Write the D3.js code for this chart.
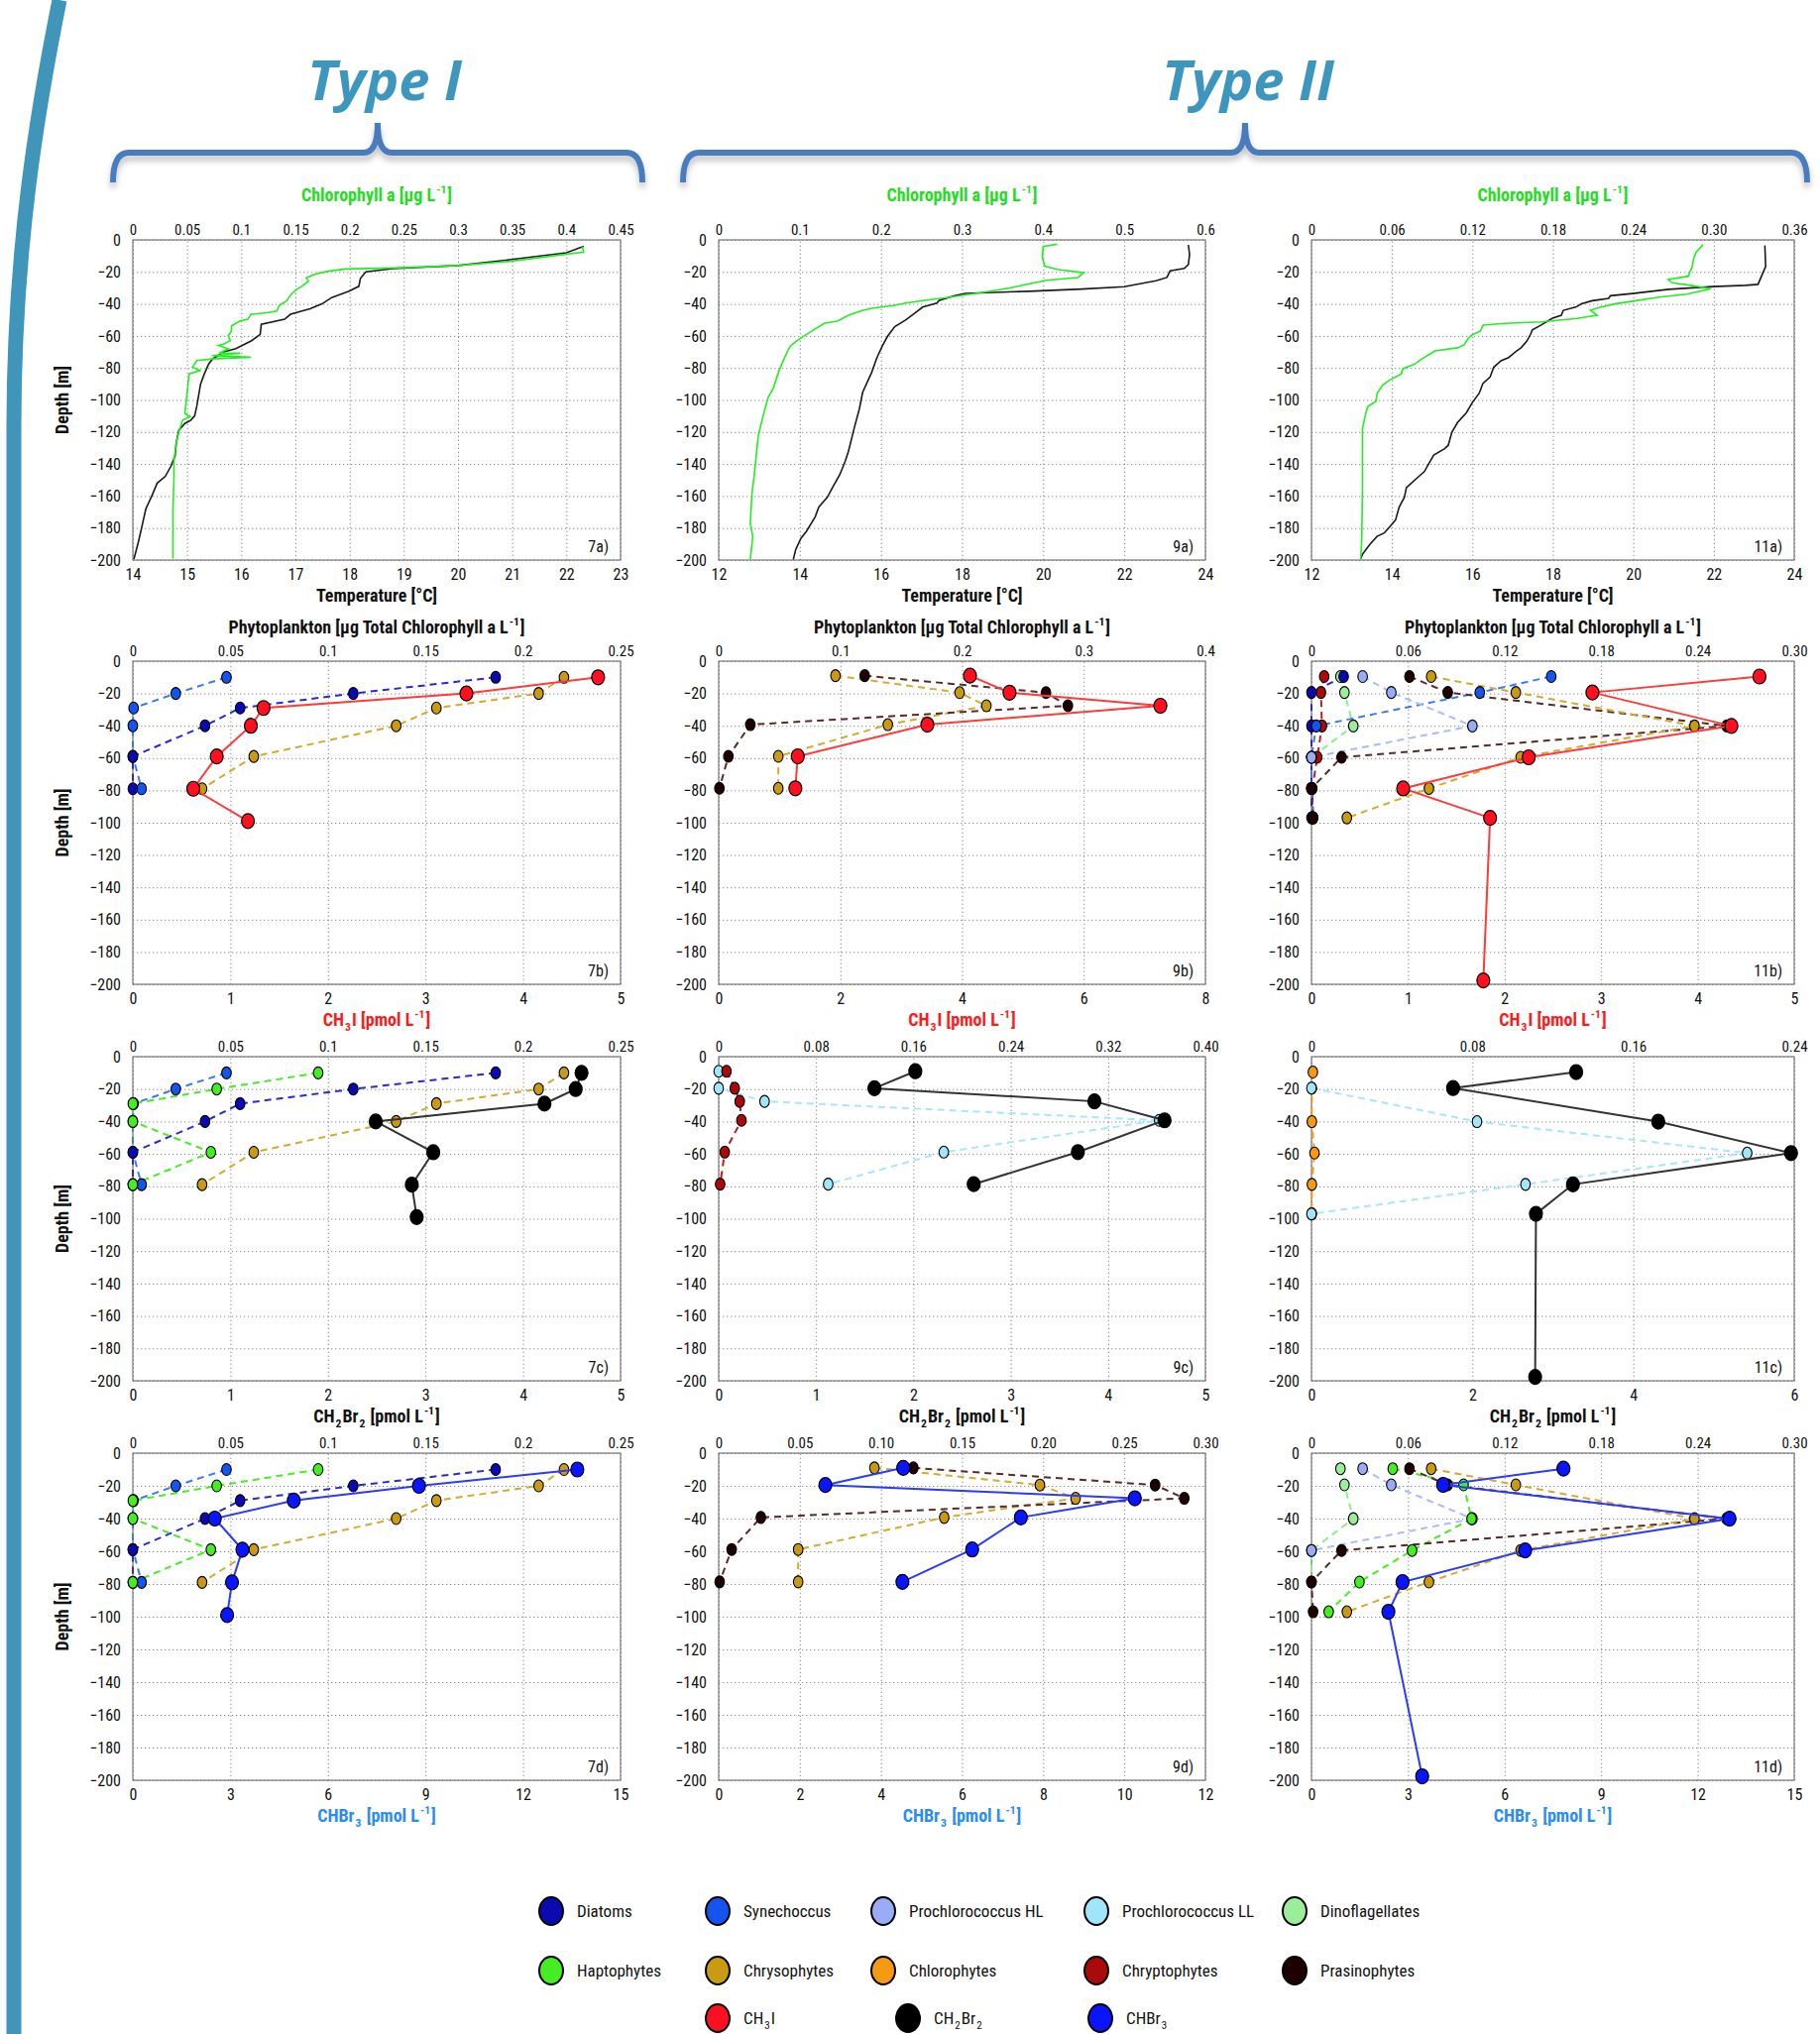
<!DOCTYPE html>
<html>
<head>
<meta charset="utf-8">
<script src="https://cdn.jsdelivr.net/npm/d3@7"></script>
<style>
  body { margin: 0; background: #fff; }
  svg { display: block; }
</style>
</head>
<body>
<svg id="fig" width="1836" height="2052"></svg>
<script>
// ---------- data ----------
var depthTicks = [0, -20, -40, -60, -80, -100, -120, -140, -160, -180, -200];

var tempTicks7 = ["14","15","16","17","18","19","20","21","22","23"];
var tempTicks9 = ["12","14","16","18","20","22","24"];
var tempTicks11 = ["12","14","16","18","20","22","24"];
var chlTicks7 = ["0","0.05","0.1","0.15","0.2","0.25","0.3","0.35","0.4","0.45"];
var chlTicks9 = ["0","0.1","0.2","0.3","0.4","0.5","0.6"];
var chlTicks11 = ["0","0.06","0.12","0.18","0.24","0.30","0.36"];
var phytoTicks7 = ["0","0.05","0.1","0.15","0.2","0.25"];
var phytoTicks7d = ["0","0.05","0.1","0.15","0.2","0.25"];
var phytoTicks9b = ["0","0.1","0.2","0.3","0.4"];
var phytoTicks9c = ["0","0.08","0.16","0.24","0.32","0.40"];
var phytoTicks9d = ["0","0.05","0.10","0.15","0.20","0.25","0.30"];
var phytoTicks11b = ["0","0.06","0.12","0.18","0.24","0.30"];
var phytoTicks11c = ["0","0.08","0.16","0.24"];
var phytoTicks11d = ["0","0.06","0.12","0.18","0.24","0.30"];
var ch3iTicks7 = ["0","1","2","3","4","5"];
var ch3iTicks9 = ["0","2","4","6","8"];
var ch3iTicks11 = ["0","1","2","3","4","5"];
var ch2br2Ticks7 = ["0","1","2","3","4","5"];
var ch2br2Ticks9 = ["0","1","2","3","4","5"];
var ch2br2Ticks11 = ["0","2","4","6"];
var chbr3Ticks7 = ["0","3","6","9","12","15"];
var chbr3Ticks9 = ["0","2","4","6","8","10","12"];
var chbr3Ticks11 = ["0","3","6","9","12","15"];

// CTD profiles [value, depth]
var temp7 = [[22.32,-4],[22.0,-8],[20.95,-12.4],[20.0,-16],[18.8,-18],[18.3,-20],[18.2,-24],[18.17,-29],[17.99,-32],[17.67,-36],[17.49,-40],[17.27,-43],[16.91,-46.5],[16.8,-49.6],[16.37,-52.7],[16.35,-59],[16.19,-63],[15.9,-68],[15.68,-70],[15.47,-74.4],[15.4,-77.5],[15.32,-83.7],[15.25,-90],[15.21,-98],[15.18,-104],[15.14,-110],[15.07,-112.6],[14.96,-114.7],[14.85,-118.8],[14.8,-127],[14.78,-135],[14.7,-141.5],[14.6,-147.7],[14.45,-151.9],[14.35,-160],[14.24,-168],[14.17,-178.7],[14.1,-189],[14.02,-199.4]];
var chl7 = [[0.4146,-4.1],[0.416,-7.6],[0.348,-13.4],[0.30,-16],[0.239,-17.6],[0.196,-18.2],[0.18,-19.6],[0.167,-21.7],[0.16,-23.8],[0.162,-25.8],[0.156,-29],[0.151,-31],[0.146,-34],[0.142,-38],[0.135,-41],[0.133,-44.4],[0.124,-45.5],[0.109,-46.5],[0.106,-49.6],[0.099,-50.6],[0.091,-53.7],[0.091,-57],[0.088,-60],[0.090,-63],[0.084,-65],[0.079,-66],[0.088,-68],[0.080,-70.7],[0.099,-70.8],[0.073,-72.3],[0.109,-73.3],[0.073,-74.4],[0.059,-75.4],[0.055,-79.5],[0.062,-81.6],[0.052,-83.7],[0.050,-96],[0.048,-108.5],[0.053,-110.5],[0.046,-112.6],[0.043,-118.8],[0.040,-127],[0.038,-137],[0.038,-148],[0.037,-168],[0.037,-199]];
var temp9 = [[23.58,-3.1],[23.61,-9.2],[23.58,-15.4],[23.48,-17.8],[23.13,-19.4],[23.05,-23.5],[22.78,-25.6],[22.0,-29.3],[20.95,-30.7],[19.65,-32.1],[18.08,-33.4],[17.82,-34.8],[17.43,-37.9],[17.38,-39.5],[17.03,-42],[16.82,-46],[16.6,-50.2],[16.34,-54.2],[16.16,-60.4],[16.03,-66.5],[15.9,-73.7],[15.77,-82.9],[15.55,-95.2],[15.47,-105.4],[15.34,-117.7],[15.2,-132],[15.12,-138.2],[14.99,-146.4],[14.81,-154.6],[14.68,-160.7],[14.47,-166.8],[14.38,-173],[14.16,-182.2],[14.03,-186.3],[13.9,-193.4],[13.84,-199.6]];
var chl9 = [[0.417,-2.7],[0.400,-4.1],[0.399,-11.3],[0.402,-16.4],[0.417,-18.4],[0.450,-20.5],[0.443,-23.5],[0.404,-25.2],[0.382,-27.6],[0.352,-30.7],[0.317,-33.4],[0.286,-35.8],[0.252,-37.9],[0.230,-39.5],[0.217,-40.9],[0.191,-42.6],[0.178,-44],[0.160,-47.1],[0.147,-50.6],[0.130,-52.2],[0.117,-56.3],[0.104,-60.4],[0.095,-63.5],[0.088,-66.5],[0.082,-72.7],[0.075,-80.9],[0.067,-93.1],[0.061,-98.3],[0.055,-109.5],[0.049,-121.8],[0.046,-136.1],[0.044,-146.4],[0.041,-158.6],[0.039,-177],[0.042,-185.3],[0.039,-199.6]];
var temp11 = [[23.27,-3.5],[23.29,-16.6],[23.22,-20.7],[23.1,-27.8],[22.79,-28.4],[21.97,-29.2],[20.88,-30.9],[19.98,-33.5],[19.43,-34.9],[19.39,-36.5],[18.98,-38],[18.71,-40],[18.57,-42],[18.26,-44],[18.21,-47.1],[17.98,-49.1],[17.71,-53.2],[17.49,-56.2],[17.44,-59.3],[17.35,-63.4],[17.21,-67.4],[17.08,-69.8],[16.9,-73.5],[16.71,-75.5],[16.53,-79.6],[16.44,-85.7],[16.26,-89.7],[16.17,-95.8],[15.99,-101.9],[15.85,-108],[15.63,-114.1],[15.49,-120.2],[15.4,-128.3],[15.31,-130.4],[15.04,-134.4],[14.9,-140.5],[14.81,-144.6],[14.63,-148.6],[14.45,-152.7],[14.36,-154.7],[14.31,-160.8],[14.18,-166.9],[14.09,-175],[13.95,-179.1],[13.81,-183.1],[13.63,-185.2],[13.45,-190.3],[13.27,-196.3],[13.22,-199.4]];
var chl11 = [[0.292,-3.0],[0.287,-7.5],[0.285,-11.6],[0.284,-16.6],[0.281,-22.7],[0.266,-24.8],[0.269,-26.8],[0.283,-28.4],[0.298,-30.5],[0.280,-33.9],[0.258,-35.9],[0.242,-38],[0.226,-40],[0.216,-42],[0.208,-44],[0.213,-47.1],[0.198,-49.1],[0.171,-51.2],[0.144,-52.2],[0.128,-53.2],[0.126,-56.9],[0.120,-59.3],[0.117,-61.3],[0.114,-65.4],[0.109,-67.4],[0.092,-69.4],[0.088,-71.5],[0.082,-74.5],[0.077,-77.6],[0.068,-80.6],[0.067,-83.7],[0.058,-87.7],[0.053,-90.8],[0.049,-95.8],[0.048,-100.9],[0.042,-104],[0.040,-110],[0.038,-118.2],[0.038,-136.4],[0.038,-156.8],[0.0375,-187.2],[0.0367,-199.4]];

// station 7 discrete samples
var depth7 = [-10, -20, -29, -40, -59, -79, -99];
var diatoms7 = [0.186, 0.113, 0.055, 0.037, 0, 0];
var synechococcus7 = [0.048, 0.022, 0.0004, 0, 0, 0.0045];
var haptophytes7 = [0.095, 0.043, 0, 0, 0.040, 0];
var chrysophytes7 = [0.221, 0.208, 0.1556, 0.135, 0.062, 0.0355];
var ch3i7 = [4.77, 3.42, 1.34, 1.21, 0.86, 0.62, 1.18];
var ch2br2_7 = [4.60, 4.54, 4.22, 2.49, 3.08, 2.86, 2.91];
var chbr3_7 = [13.67, 8.8, 4.95, 2.52, 3.37, 3.05, 2.9];

// station 9
var depth9 = [-9, -19.5, -27.6, -39.3, -58.9, -78.7];
var chrysophytes9 = [0.096, 0.198, 0.220, 0.139, 0.049, 0.049];
var prasinophytes9 = [0.120, 0.269, 0.287, 0.026, 0.008, 0.0006];
var prochloLL9 = [0, 0, 0.0377, 0.362, 0.185, 0.090];
var cryptophytes9 = [0.0064, 0.0132, 0.0173, 0.0187, 0.005, 0.0012];
var ch3i9 = [4.13, 4.78, 7.26, 3.43, 1.30, 1.26];
var ch2br2_9 = [2.02, 1.60, 3.86, 4.58, 3.69, 2.62];
var chbr3_9 = [4.55, 2.63, 10.26, 7.45, 6.25, 4.53];

// station 11
var depth11 = [-9.5, -19.4, -40.1, -59.5, -78.8, -97, -197.6];
var cryptophytes11 = [0.0079, 0.0059, 0.0065, 0.0036, 0.0005, 0.001];
var dinoflagellates11 = [0.018, 0.0205, 0.026, 0, 0, null];
var diatoms11 = [0.020, 0, 0, 0, 0, 0];
var synechococcus11 = [0.149, 0.1046, 0.003, 0, 0, 0.001];
var prochloHL11 = [0.0318, 0.0496, 0.100, 0, null, null];
var prasinophytes11 = [0.0609, 0.0847, 0.258, 0.0187, 0, 0.001];
var chrysophytes11 = [0.0744, 0.127, 0.238, 0.130, 0.073, 0.022];
var haptophytes11 = [0.0505, 0.0945, 0.0995, 0.0625, 0.0298, 0.0107];
var prochloLL11 = [null, 0, 0.0823, 0.2166, 0.1064, 0];
var chlorophytes11 = [0.0007, 0.0002, 0.0002, 0.0015, 0.0002, 0.0002];
var ch3i11 = [4.64, 2.91, 4.35, 2.25, 0.95, 1.85, 1.78];
var ch2br2_11 = [3.29, 1.76, 4.31, 5.96, 3.25, 2.79, 2.78];
var chbr3_11 = [7.83, 4.09, 12.99, 6.64, 2.83, 2.39, 3.44];

var legendRow1 = ["Diatoms", "Synechoccus", "Prochlorococcus HL", "Prochlorococcus LL", "Dinoflagellates"];
var legendRow2 = ["Haptophytes", "Chrysophytes", "Chlorophytes", "Chryptophytes", "Prasinophytes"];
var legendRow3 = ["CH3I", "CH2Br2", "CHBr3"];

// ---------- styles / layout ----------
var FONT = "'Liberation Sans Narrow', 'Roboto Condensed', 'Open Sans', sans-serif";
var colX = [[134, 626], [725, 1216], [1323, 1810]];
var rowY = [[242, 565], [667, 993], [1066, 1393], [1466, 1796]];

var groupStyle = {
  "Diatoms": {fill: "#0a0ab0", line: "#2a2ad4"},
  "Synechoccus": {fill: "#1455f0", line: "#3a7af5"},
  "Prochlorococcus HL": {fill: "#9aacf5", line: "#aabaff"},
  "Prochlorococcus LL": {fill: "#9fe6fa", line: "#a6e6ff"},
  "Dinoflagellates": {fill: "#99ee99", line: "#8cf08c"},
  "Haptophytes": {fill: "#44ee22", line: "#44ee22"},
  "Chrysophytes": {fill: "#c99a12", line: "#d4aa30"},
  "Chlorophytes": {fill: "#f59a12", line: "#f5a020"},
  "Chryptophytes": {fill: "#aa0a0a", line: "#b82020"},
  "Prasinophytes": {fill: "#1e0000", line: "#5a2a2a"},
  "CH3I": {fill: "#ff1020", line: "#ff3a3a"},
  "CH2Br2": {fill: "#000000", line: "#333333"},
  "CHBr3": {fill: "#0a14ff", line: "#2a3aff"}
};

var chlTitle = [["Chlorophyll a [μg L"], ["-1", "sup"], ["]"]];
var phytoTitle = [["Phytoplankton [μg Total Chlorophyll a L"], ["-1", "sup"], ["]"]];
var tempTitle = [["Temperature [°C]"]];
var ch3iTitle = [["CH"], ["3", "sub"], ["I [pmol L"], ["-1", "sup"], ["]"]];
var ch2br2Title = [["CH"], ["2", "sub"], ["Br"], ["2", "sub"], [" [pmol L"], ["-1", "sup"], ["]"]];
var chbr3Title = [["CHBr"], ["3", "sub"], [" [pmol L"], ["-1", "sup"], ["]"]];
var haloLegend = {
  "CH3I": [["CH"], ["3", "sub"], ["I"]],
  "CH2Br2": [["CH"], ["2", "sub"], ["Br"], ["2", "sub"]],
  "CHBr3": [["CHBr"], ["3", "sub"]]
};

var panels = [
  {row: 0, col: 0, label: "7a)", bottomTicks: tempTicks7, topTicks: chlTicks7, temp: temp7, chl: chl7},
  {row: 0, col: 1, label: "9a)", bottomTicks: tempTicks9, topTicks: chlTicks9, temp: temp9, chl: chl9},
  {row: 0, col: 2, label: "11a)", bottomTicks: tempTicks11, topTicks: chlTicks11, temp: temp11, chl: chl11},

  {row: 1, col: 0, label: "7b)", bottomTicks: ch3iTicks7, topTicks: phytoTicks7, depths: depth7,
    phyto: [["Synechoccus", synechococcus7], ["Diatoms", diatoms7], ["Chrysophytes", chrysophytes7]], halo: ["CH3I", ch3i7]},
  {row: 1, col: 1, label: "9b)", bottomTicks: ch3iTicks9, topTicks: phytoTicks9b, depths: depth9,
    phyto: [["Chrysophytes", chrysophytes9], ["Prasinophytes", prasinophytes9]], halo: ["CH3I", ch3i9]},
  {row: 1, col: 2, label: "11b)", bottomTicks: ch3iTicks11, topTicks: phytoTicks11b, depths: depth11,
    phyto: [["Chryptophytes", cryptophytes11], ["Dinoflagellates", dinoflagellates11], ["Diatoms", diatoms11],
            ["Synechoccus", synechococcus11], ["Prochlorococcus HL", prochloHL11], ["Prasinophytes", prasinophytes11],
            ["Chrysophytes", chrysophytes11]], halo: ["CH3I", ch3i11]},

  {row: 2, col: 0, label: "7c)", bottomTicks: ch2br2Ticks7, topTicks: phytoTicks7, depths: depth7,
    phyto: [["Synechoccus", synechococcus7], ["Diatoms", diatoms7], ["Haptophytes", haptophytes7], ["Chrysophytes", chrysophytes7]], halo: ["CH2Br2", ch2br2_7]},
  {row: 2, col: 1, label: "9c)", bottomTicks: ch2br2Ticks9, topTicks: phytoTicks9c, depths: depth9,
    phyto: [["Prochlorococcus LL", prochloLL9], ["Chryptophytes", cryptophytes9]], halo: ["CH2Br2", ch2br2_9]},
  {row: 2, col: 2, label: "11c)", bottomTicks: ch2br2Ticks11, topTicks: phytoTicks11c, depths: depth11,
    phyto: [["Chlorophytes", chlorophytes11], ["Prochlorococcus LL", prochloLL11]], halo: ["CH2Br2", ch2br2_11]},

  {row: 3, col: 0, label: "7d)", bottomTicks: chbr3Ticks7, topTicks: phytoTicks7d, depths: depth7,
    phyto: [["Synechoccus", synechococcus7], ["Diatoms", diatoms7], ["Haptophytes", haptophytes7], ["Chrysophytes", chrysophytes7]], halo: ["CHBr3", chbr3_7]},
  {row: 3, col: 1, label: "9d)", bottomTicks: chbr3Ticks9, topTicks: phytoTicks9d, depths: depth9,
    phyto: [["Chrysophytes", chrysophytes9], ["Prasinophytes", prasinophytes9]], halo: ["CHBr3", chbr3_9]},
  {row: 3, col: 2, label: "11d)", bottomTicks: chbr3Ticks11, topTicks: phytoTicks11d, depths: depth11,
    phyto: [["Dinoflagellates", dinoflagellates11], ["Prochlorococcus HL", prochloHL11], ["Haptophytes", haptophytes11],
            ["Prasinophytes", prasinophytes11], ["Chrysophytes", chrysophytes11]], halo: ["CHBr3", chbr3_11]}
];

var rowTop = [{parts: chlTitle, color: "#22dd22", off: 39}, {parts: phytoTitle, color: "#111", off: 28}, null, null];
var rowBottom = [{parts: tempTitle, color: "#111"}, {parts: ch3iTitle, color: "#ff1a1a"},
                 {parts: ch2br2Title, color: "#111"}, {parts: chbr3Title, color: "#2a8cf5"}];

// ---------- drawing ----------
var svg = d3.select("#fig");

var defs = svg.append("defs");
defs.append("filter").attr("id", "shadow").attr("x", "-5%").attr("y", "-60%").attr("width", "110%").attr("height", "260%")
  .append("feDropShadow").attr("dx", 0).attr("dy", 5).attr("stdDeviation", 3)
  .attr("flood-color", "#000").attr("flood-opacity", 0.25);

// rich text with sub/superscripts
function rich(sel, parts, size) {
  var shift = 0;
  parts.forEach(function(pt, i) {
    var target = pt[1] === "sub" ? size * 0.28 : pt[1] === "sup" ? -size * 0.42 : 0;
    var ts = sel.append("tspan").attr("dy", target - shift).text(pt[0]);
    if (pt[1]) ts.attr("font-size", size * 0.65);
    if (i > 0 && (pt[1] || parts[i - 1][1])) ts.attr("dx", 1);
    shift = target;
  });
}

// left decoration arc
svg.append("path")
  .attr("d", "M60,0 C38,110 14,250 14,430 L14,2052")
  .attr("fill", "none").attr("stroke", "#3f96ba").attr("stroke-width", 15);

// group titles and braces
svg.append("text").attr("x", 388).attr("y", 101).attr("text-anchor", "middle")
  .attr("font-family", "'Open Sans', sans-serif").attr("font-size", 56).attr("font-weight", 700)
  .attr("font-style", "italic").attr("fill", "#3d96bd").text("Type I");
svg.append("text").attr("x", 1259).attr("y", 101).attr("text-anchor", "middle")
  .attr("font-family", "'Open Sans', sans-serif").attr("font-size", 56).attr("font-weight", 700)
  .attr("font-style", "italic").attr("fill", "#3d96bd").text("Type II");

function brace(xl, xm, xr) {
  return "M" + xl + ",184 Q" + xl + ",154 " + (xl + 16) + ",154 L" + (xm - 14) + ",154 Q" + xm + ",154 " + xm + ",124 Q" + xm + ",154 " + (xm + 14) + ",154 L" + (xr - 16) + ",154 Q" + xr + ",154 " + xr + ",184";
}
svg.append("path").attr("d", brace(114, 381, 648)).attr("fill", "none").attr("stroke", "#4a7cbf")
  .attr("stroke-width", 6).attr("filter", "url(#shadow)");
svg.append("path").attr("d", brace(689, 1256, 1823)).attr("fill", "none").attr("stroke", "#4a7cbf")
  .attr("stroke-width", 6).attr("filter", "url(#shadow)");

function styleAxis(g, size) {
  g.attr("font-family", FONT).attr("font-size", size);
  g.select(".domain").remove();
  g.selectAll("text").attr("fill", "#111");
}

function drawPanel(p) {
  var xr = colX[p.col], yr = rowY[p.row];
  var bt = p.bottomTicks.map(Number), tt = p.topTicks.map(Number);
  var xb = d3.scaleLinear().domain([bt[0], bt[bt.length - 1]]).range(xr);
  var xt = d3.scaleLinear().domain([tt[0], tt[tt.length - 1]]).range(xr);
  var y = d3.scaleLinear().domain([0, -200]).range(yr);
  var w = xr[1] - xr[0], h = yr[1] - yr[0];
  var g = svg.append("g");

  // dotted grid
  var gx = g.append("g").attr("transform", "translate(0," + yr[1] + ")")
    .call(d3.axisBottom(xb).tickValues(bt).tickSize(-h).tickFormat(""));
  var gy = g.append("g").attr("transform", "translate(" + xr[0] + ",0)")
    .call(d3.axisLeft(y).tickValues(depthTicks).tickSize(-w).tickFormat(""));
  [gx, gy].forEach(function(a) {
    a.select(".domain").remove();
    a.selectAll("line").attr("stroke", "#8a8a8a").attr("stroke-width", 1).attr("stroke-dasharray", "1.3,2.7");
  });

  g.append("rect").attr("x", xr[0]).attr("y", yr[0]).attr("width", w).attr("height", h)
    .attr("fill", "none").attr("stroke", "#777").attr("stroke-width", 1.2);

  // tick labels
  var ab = g.append("g").attr("transform", "translate(0," + yr[1] + ")")
    .call(d3.axisBottom(xb).tickValues(bt).tickSize(0).tickPadding(9)
      .tickFormat(function(d, i) { return p.bottomTicks[i]; }));
  styleAxis(ab, 16);
  var at = g.append("g").attr("transform", "translate(0," + yr[0] + ")")
    .call(d3.axisTop(xt).tickValues(tt).tickSize(0).tickPadding(5)
      .tickFormat(function(d, i) { return p.topTicks[i]; }));
  styleAxis(at, 15);
  var al = g.append("g").attr("transform", "translate(" + xr[0] + ",0)")
    .call(d3.axisLeft(y).tickValues(depthTicks).tickSize(0).tickPadding(12)
      .tickFormat(function(d) { return d === 0 ? "0" : "\u2212" + Math.abs(d); }));
  styleAxis(al, 16);

  // titles
  var cx = (xr[0] + xr[1]) / 2;
  var top = rowTop[p.row];
  if (top) {
    rich(g.append("text").attr("x", cx).attr("y", yr[0] - top.off).attr("text-anchor", "middle")
      .attr("font-family", FONT).attr("font-size", 18).attr("font-weight", 700).attr("fill", top.color), top.parts, 18);
  }
  var bot = rowBottom[p.row];
  rich(g.append("text").attr("x", cx).attr("y", yr[1] + 42).attr("text-anchor", "middle")
    .attr("font-family", FONT).attr("font-size", 18).attr("font-weight", 700).attr("fill", bot.color), bot.parts, 18);
  if (p.col === 0) {
    g.append("text").attr("transform", "translate(69," + (yr[0] + h / 2) + ") rotate(-90)")
      .attr("text-anchor", "middle").attr("font-family", FONT).attr("font-size", 18).attr("font-weight", 700)
      .attr("fill", "#111").text("Depth [m]");
  }
  g.append("text").attr("x", xr[1] - 12).attr("y", yr[1] - 8).attr("text-anchor", "end")
    .attr("font-family", FONT).attr("font-size", 16).attr("fill", "#111").text(p.label);

  var marks = g.append("g");

  if (p.temp) {
    var lt = d3.line().x(function(d) { return xb(d[0]); }).y(function(d) { return y(d[1]); });
    var lc = d3.line().x(function(d) { return xt(d[0]); }).y(function(d) { return y(d[1]); });
    marks.append("path").datum(p.temp).attr("d", lt).attr("fill", "none").attr("stroke", "#1a1a1a").attr("stroke-width", 1.6);
    marks.append("path").datum(p.chl).attr("d", lc).attr("fill", "none").attr("stroke", "#22ee22").attr("stroke-width", 1.6);
    return;
  }

  var series = p.phyto.map(function(s) {
    var pts = [];
    s[1].forEach(function(v, i) { if (v !== null) pts.push([v, p.depths[i]]); });
    return {name: s[0], pts: pts};
  });
  var lineTop = d3.line().x(function(d) { return xt(d[0]); }).y(function(d) { return y(d[1]); });
  series.forEach(function(s) {
    marks.append("path").datum(s.pts).attr("d", lineTop).attr("fill", "none")
      .attr("stroke", groupStyle[s.name].line).attr("stroke-width", 2).attr("stroke-dasharray", "7,5");
  });
  series.forEach(function(s) {
    marks.selectAll(null).data(s.pts).enter().append("ellipse")
      .attr("cx", function(d) { return xt(d[0]); }).attr("cy", function(d) { return y(d[1]); })
      .attr("rx", 4.8).attr("ry", 6).attr("fill", groupStyle[s.name].fill)
      .attr("stroke", "#000").attr("stroke-width", 1.1);
  });

  var hname = p.halo[0];
  var hpts = p.halo[1].map(function(v, i) { return [v, p.depths[i]]; });
  var lineBot = d3.line().x(function(d) { return xb(d[0]); }).y(function(d) { return y(d[1]); });
  marks.append("path").datum(hpts).attr("d", lineBot).attr("fill", "none")
    .attr("stroke", groupStyle[hname].line).attr("stroke-width", 2);
  marks.selectAll(null).data(hpts).enter().append("ellipse")
    .attr("cx", function(d) { return xb(d[0]); }).attr("cy", function(d) { return y(d[1]); })
    .attr("rx", 6.5).attr("ry", 7.5).attr("fill", groupStyle[hname].fill)
    .attr("stroke", "#000").attr("stroke-width", 1.2);
}

panels.forEach(drawPanel);

// ---------- legend ----------
var legendX = [556, 724, 891, 1106, 1306];
var legendX3 = [724, 916, 1110];
var legendY = [1928, 1988, 2036];

function legendItem(name, x, yy, parts) {
  svg.append("ellipse").attr("cx", x).attr("cy", yy).attr("rx", 12).attr("ry", 14)
    .attr("fill", groupStyle[name].fill).attr("stroke", "#000").attr("stroke-width", 2);
  var t = svg.append("text").attr("x", x + 26).attr("y", yy + 6)
    .attr("font-family", FONT).attr("font-size", 17).attr("fill", "#111");
  if (parts) rich(t, parts, 17); else t.text(name);
}
legendRow1.forEach(function(n, i) { legendItem(n, legendX[i], legendY[0]); });
legendRow2.forEach(function(n, i) { legendItem(n, legendX[i], legendY[1]); });
legendRow3.forEach(function(n, i) { legendItem(n, legendX3[i], legendY[2], haloLegend[n]); });
</script>
</body>
</html>
